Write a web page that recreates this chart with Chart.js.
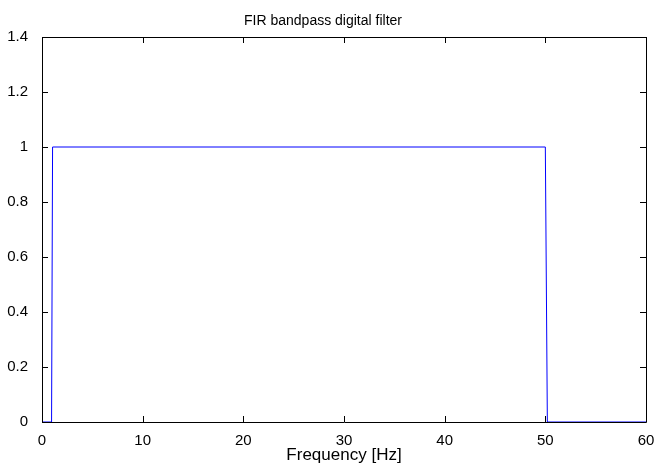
<!DOCTYPE html>
<html>
<head>
<meta charset="utf-8">
<script src="https://cdn.jsdelivr.net/npm/chart.js@4.4.0/dist/chart.umd.min.js"></script>
<style>
  html, body { margin: 0; padding: 0; background: #fff; }
  canvas { display: block; }
</style>
</head>
<body>
<canvas id="chart" width="657" height="466"></canvas>
<script>
// Frequency response
const freqHz = [0, 0.95, 1.05, 50, 50.2, 60];
const gain = [0, 0, 1, 1, 0, 0];
const xTicks = [0, 10, 20, 30, 40, 50, 60];
const yTicks = [0, 0.2, 0.4, 0.6, 0.8, 1, 1.2, 1.4];

const points = freqHz.map((f, i) => ({ x: f, y: gain[i] }));

// MATLAB-like box with inward ticks
const boxTicks = {
  id: 'boxTicks',
  afterDraw(chart) {
    const ctx = chart.ctx;
    const a = chart.chartArea;
    const xs = chart.scales.x, ys = chart.scales.y;
    const len = 6;
    ctx.save();
    ctx.strokeStyle = '#000';
    ctx.lineWidth = 1;
    ctx.beginPath();
    ctx.rect(Math.round(a.left) + 0.5, Math.round(a.top) + 0.5,
             Math.round(a.right - a.left), Math.round(a.bottom - a.top));
    xTicks.forEach(v => {
      const px = Math.round(xs.getPixelForValue(v)) + 0.5;
      ctx.moveTo(px, a.bottom); ctx.lineTo(px, a.bottom - len);
      ctx.moveTo(px, a.top); ctx.lineTo(px, a.top + len);
    });
    yTicks.forEach(v => {
      const py = Math.round(ys.getPixelForValue(v)) + 0.5;
      ctx.moveTo(a.left, py); ctx.lineTo(a.left + len, py);
      ctx.moveTo(a.right, py); ctx.lineTo(a.right - len, py);
    });
    ctx.stroke();
    ctx.restore();
  }
};

const font = 'Liberation Sans, Arial';

new Chart(document.getElementById('chart'), {
  type: 'scatter',
  data: {
    datasets: [{
      data: points,
      showLine: true,
      borderColor: '#0000ff',
      borderWidth: 1,
      pointRadius: 0,
      tension: 0
    }]
  },
  options: {
    responsive: false,
    animation: false,
    layout: { padding: { left: 0, right: 11, top: 0, bottom: 0 } },
    plugins: {
      legend: { display: false },
      tooltip: { enabled: false },
      title: {
        display: true,
        text: 'FIR bandpass digital filter',
        color: '#000',
        font: { family: font, size: 14, weight: 'normal' },
        padding: { top: 12.6, bottom: 7.6 }
      }
    },
    scales: {
      x: {
        type: 'linear',
        min: 0, max: 60,
        afterBuildTicks: s => { s.ticks = xTicks.map(v => ({ value: v })); },
        afterFit: s => { s.height = 44; },
        grid: { display: false },
        border: { display: false },
        ticks: {
          color: '#000', padding: 2, maxRotation: 0,
          font: { family: font, size: 15 }
        },
        title: {
          display: true, text: 'Frequency [Hz]', color: '#000',
          font: { family: font, size: 17 },
          padding: { top: 0, bottom: 0 }
        }
      },
      y: {
        min: 0, max: 1.4,
        afterBuildTicks: s => { s.ticks = yTicks.map(v => ({ value: v })); },
        afterFit: s => { s.width = 42; },
        grid: { display: false },
        border: { display: false },
        ticks: {
          color: '#000', padding: 6,
          font: { family: font, size: 15 },
          callback: v => String(Math.round(v * 10) / 10)
        }
      }
    }
  },
  plugins: [boxTicks]
});
</script>
</body>
</html>
